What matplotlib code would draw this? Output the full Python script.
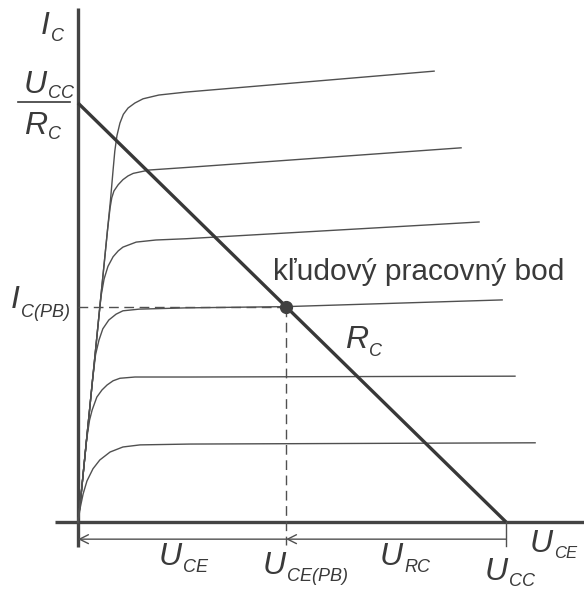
import matplotlib
matplotlib.use("Agg")
import matplotlib.pyplot as plt

# Supply voltage and the load-line intercept U_CC / R_C (relative units)
U_CC = 10.0
I_MAX = 10.0

# Quiescent operating point
Q_U = 4.86
Q_I = 5.14

# Output characteristics I_C(U_CE), one per base current, lowest first
c6_u = [0, 0.05, 0.12, 0.21, 0.35, 0.51, 0.75, 1.05, 1.45, 2.62, 10.68]
c6_i = [0, 0.33, 0.67, 0.98, 1.27, 1.48, 1.67, 1.79, 1.84, 1.86, 1.89]

c5_u = [0, 0.06, 0.13, 0.20, 0.27, 0.33, 0.44, 0.56, 0.68, 0.82, 0.98, 1.33, 2.62, 10.21]
c5_i = [0, 0.52, 1.24, 1.96, 2.43, 2.67, 2.98, 3.15, 3.27, 3.37, 3.43, 3.46, 3.46, 3.48]

c4_u = [0, 0.06, 0.13, 0.20, 0.27, 0.34, 0.41, 0.49, 0.58, 0.72, 0.89, 1.05, 1.43, 2.52, 4.86, 9.91]
c4_i = [0, 0.52, 1.24, 1.96, 2.67, 3.39, 3.99, 4.34, 4.61, 4.82, 4.96, 5.04, 5.08, 5.11, 5.14, 5.30]

c3_u = [0, 0.06, 0.13, 0.20, 0.27, 0.34, 0.41, 0.48, 0.54, 0.61, 0.70, 0.82, 0.94, 1.05, 1.36, 1.82, 2.52, 9.37]
c3_i = [0, 0.52, 1.24, 1.96, 2.67, 3.39, 4.10, 4.82, 5.40, 5.80, 6.10, 6.33, 6.47, 6.56, 6.68, 6.73, 6.76, 7.16]

c2_u = [0, 0.06, 0.13, 0.20, 0.27, 0.34, 0.41, 0.48, 0.55, 0.62, 0.69, 0.75, 0.79, 0.84, 0.94, 1.05, 1.17, 1.29, 1.66, 2.52, 8.95]
c2_i = [0, 0.52, 1.24, 1.96, 2.67, 3.39, 4.10, 4.82, 5.54, 6.25, 6.97, 7.50, 7.74, 7.90, 8.05, 8.17, 8.26, 8.32, 8.40, 8.46, 8.93]

c1_u = [0, 0.06, 0.13, 0.20, 0.27, 0.34, 0.41, 0.48, 0.55, 0.62, 0.69, 0.76, 0.82, 0.86, 0.91, 0.98, 1.06, 1.17, 1.33, 1.52, 1.89, 2.52, 8.32]
c1_i = [0, 0.52, 1.24, 1.96, 2.67, 3.39, 4.10, 4.82, 5.54, 6.25, 6.97, 7.69, 8.40, 8.85, 9.22, 9.52, 9.73, 9.88, 10.00, 10.10, 10.19, 10.26, 10.76]

curves = [(c1_u, c1_i), (c2_u, c2_i), (c3_u, c3_i), (c4_u, c4_i), (c5_u, c5_i), (c6_u, c6_i)]

W, H = 584, 592
INK = "#3a3a3a"
LINE = "#505050"

fig = plt.figure(figsize=(W / 100, H / 100), dpi=100, facecolor="white")
ax = fig.add_axes([0, 0, 1, 1])
ax.set_xlim(-1.822, 11.822)
ax.set_ylim(-1.671, 12.458)
ax.axis("off")

# axes
ax.plot([0, 0], [-0.60, 12.27], color="#444444", lw=2.4, solid_capstyle="butt")
ax.plot([-0.54, 11.9], [0, 0], color="#444444", lw=2.4, solid_capstyle="butt")

# characteristics
for u, i in curves:
    ax.plot(u, i, color=LINE, lw=1.0, solid_joinstyle="round")

# load line R_C
ax.plot([0, U_CC], [I_MAX, 0], color="#383838", lw=2.4, solid_capstyle="butt")

# operating point with dashed projections
ax.plot([0, Q_U], [Q_I, Q_I], color=LINE, lw=1.0, dashes=(7, 4))
ax.plot([Q_U, Q_U], [Q_I, -0.56], color=LINE, lw=1.0, dashes=(7, 4))
ax.plot([Q_U], [Q_I], "o", color="#404040", markersize=8.5)

# voltage split arrows under the U axis
y_arr = -0.41
arr = dict(arrowstyle="->", color=LINE, lw=1.0, shrinkA=0, shrinkB=0, mutation_scale=16)
ax.annotate("", xy=(0, y_arr), xytext=(Q_U, y_arr), arrowprops=arr)
ax.annotate("", xy=(Q_U, y_arr), xytext=(U_CC, y_arr), arrowprops=arr)
ax.plot([U_CC, U_CC], [0, -0.58], color=LINE, lw=1.0)

# labels
MAIN = 23
SUB = 13
txt = dict(family="Liberation Sans", style="italic", color=INK)


def sym(x, y, main, sub, dx=1, dy=7, size=MAIN, subsize=SUB):
    # x, y: pixel position (from top-left) of the main letter's right edge / baseline
    fig.text(x / W, 1 - y / H, main, ha="right", va="baseline", fontsize=size, **txt)
    fig.text((x + dx) / W, 1 - (y + dy) / H, sub, ha="left", va="baseline", fontsize=subsize, **txt)


sym(50, 34, "I", "C")
sym(47, 93, "U", "CC", dy=5)
fig.add_artist(plt.Line2D([18 / W, 70 / W], [1 - 102 / H, 1 - 102 / H], color=INK, lw=1.2))
sym(47, 134, "R", "C", dy=5)
sym(20, 308, "I", "C(PB)", dy=9)
sym(182, 565, "U", "CE")
sym(286, 574, "U", "CE(PB)")
sym(403, 565, "U", "RC")
sym(508, 580, "U", "CC", dy=6)
sym(553, 552, "U", "CE", dy=6, subsize=12)
sym(368, 348, "R", "C", dy=8)

fig.text(273 / W, 1 - 280 / H, "kľudový pracovný bod", ha="left", va="baseline",
         fontsize=21.5, family="Liberation Sans", color=INK)

fig.savefig("out.png", dpi=100, facecolor="white")
